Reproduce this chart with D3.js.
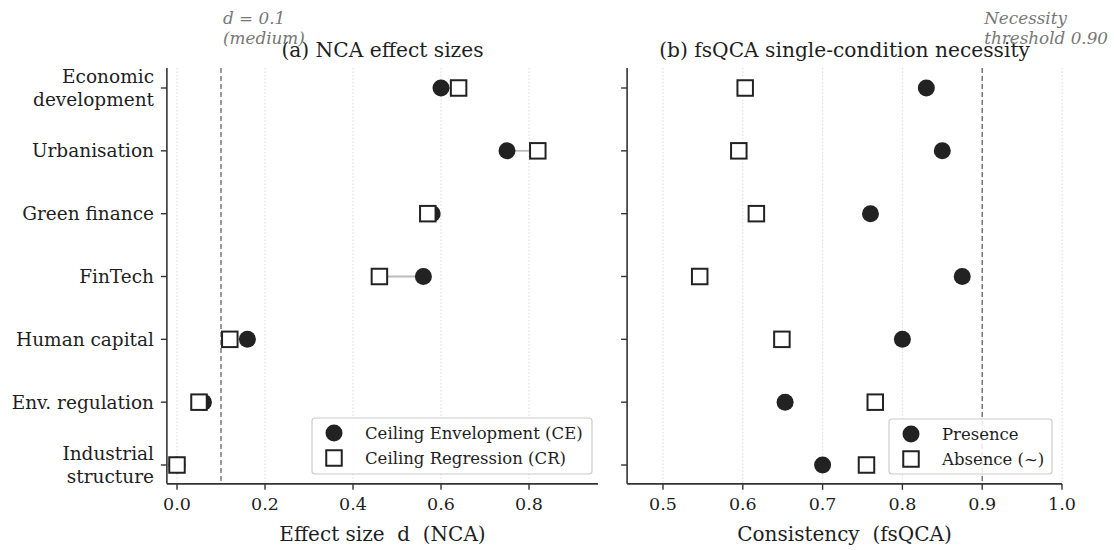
<!DOCTYPE html>
<meta charset="utf-8">
<script src="https://d3js.org/d3.v7.min.js"></script>
<style>
  body { margin: 0; background: #fff; }
  text { font-family: "DejaVu Serif", serif; fill: #1e1e1e; }
</style>
<div id="chart"></div>
<script>

// conditions, top to bottom
var conditions = ["Economic\ndevelopment", "Urbanisation", "Green finance", "FinTech",
                  "Human capital", "Env. regulation", "Industrial\nstructure"];

// (a) NCA effect sizes
var ceValues = [0.60, 0.75, 0.58, 0.56, 0.16, 0.06, 0.00];
var crValues = [0.64, 0.82, 0.57, 0.46, 0.12, 0.05, 0.00];

// (b) fsQCA necessity consistency
var presenceValues = [0.83, 0.85, 0.76, 0.875, 0.80, 0.653, 0.70];
var absenceValues  = [0.603, 0.595, 0.617, 0.546, 0.649, 0.766, 0.755];

var ncaTicks = [0.0, 0.2, 0.4, 0.6, 0.8];
var qcaTicks = [0.5, 0.6, 0.7, 0.8, 0.9, 1.0];
var ncaThreshold = 0.1;
var qcaThreshold = 0.9;

var svg = d3.select("#chart").append("svg")
  .attr("width", 1114)
  .attr("height", 550);

var y = d3.scaleLinear().domain([0, 6]).range([88, 465]);
var yTop = y(-0.32), yBottom = y(6.3);

var xA = d3.scaleLinear().domain([0, 0.8]).range([177, 529]);
var xB = d3.scaleLinear().domain([0.5, 1.0]).range([663, 1062]);

function panel(x, xmin, xmax, ticks, fmt, title, xlabel) {
  var g = svg.append("g");
  var left = x(xmin), right = x(xmax);

  // dotted grid
  g.selectAll(".grid").data(ticks).enter().append("line")
    .attr("x1", d => x(d)).attr("x2", d => x(d))
    .attr("y1", yTop).attr("y2", yBottom)
    .style("stroke", "#d0d0d0").style("stroke-width", 0.8)
    .style("stroke-dasharray", "1.5,2");

  // spines
  g.append("line").attr("x1", left).attr("x2", left).attr("y1", yTop).attr("y2", yBottom)
    .style("stroke", "#333").style("stroke-width", 1.6);
  g.append("line").attr("x1", left).attr("x2", right).attr("y1", yBottom).attr("y2", yBottom)
    .style("stroke", "#333").style("stroke-width", 1.6);

  // x ticks
  g.selectAll(".xt").data(ticks).enter().append("line")
    .attr("x1", d => x(d)).attr("x2", d => x(d))
    .attr("y1", yBottom).attr("y2", yBottom + 6)
    .style("stroke", "#333").style("stroke-width", 1.4);
  g.selectAll(".xl").data(ticks).enter().append("text")
    .attr("x", d => x(d)).attr("y", yBottom + 26)
    .attr("text-anchor", "middle").style("font-size", "17.5px")
    .text(d => fmt(d));

  // y ticks
  g.selectAll(".yt").data(conditions).enter().append("line")
    .attr("x1", left - 6).attr("x2", left)
    .attr("y1", (d, i) => y(i)).attr("y2", (d, i) => y(i))
    .style("stroke", "#333").style("stroke-width", 1.4);

  g.append("text").attr("x", (left + right) / 2).attr("y", 57)
    .attr("text-anchor", "middle").style("font-size", "20.2px").text(title);
  g.append("text").attr("x", (left + right) / 2).attr("y", 541)
    .attr("text-anchor", "middle").style("font-size", "20px")
    .attr("xml:space", "preserve").text(xlabel);
  return g;
}

var gA = panel(xA, -0.023, 0.957, ncaTicks, d3.format(".1f"), "(a) NCA effect sizes", "Effect size  d  (NCA)");
var gB = panel(xB, 0.455, 1.0, qcaTicks, d3.format(".1f"), "(b) fsQCA single-condition necessity", "Consistency  (fsQCA)");

// y labels (left panel only)
conditions.forEach(function(c, i) {
  var lines = c.split("\n");
  var t = svg.append("text").attr("text-anchor", "end").style("font-size", "18.5px");
  lines.forEach(function(l, k) {
    t.append("tspan").attr("x", 154)
      .attr("y", y(i) + 6.5 + (k - (lines.length - 1) / 2) * 23)
      .text(l);
  });
});

// threshold lines + notes
function threshold(g, x, v, lines) {
  g.append("line").attr("x1", x(v)).attr("x2", x(v)).attr("y1", yTop).attr("y2", yBottom)
    .style("stroke", "#666").style("stroke-width", 1.3).style("stroke-dasharray", "5,3");
  var t = g.append("text").style("font-size", "16.8px").style("font-style", "italic")
    .style("fill", "#777");
  lines.forEach(function(l, k) {
    t.append("tspan").attr("x", x(v) + 2).attr("y", 24 + k * 20).text(l);
  });
}
threshold(gA, xA, ncaThreshold, ["d = 0.1", "(medium)"]);
threshold(gB, xB, qcaThreshold, ["Necessity", "threshold 0.90"]);

// connectors in panel (a)
gA.selectAll(".conn").data(conditions).enter().append("line")
  .attr("x1", (d, i) => xA(ceValues[i])).attr("x2", (d, i) => xA(crValues[i]))
  .attr("y1", (d, i) => y(i)).attr("y2", (d, i) => y(i))
  .style("stroke", "#bbb").style("stroke-width", 1.8);

var R = 8.5, S = 15.5;
function dots(g, x, vals) {
  g.selectAll(null).data(vals).enter().append("circle")
    .attr("cx", d => x(d)).attr("cy", (d, i) => y(i)).attr("r", R)
    .style("fill", "#222");
}
function squares(g, x, vals) {
  g.selectAll(null).data(vals).enter().append("rect")
    .attr("x", d => x(d) - S / 2).attr("y", (d, i) => y(i) - S / 2)
    .attr("width", S).attr("height", S)
    .style("fill", "#fff").style("stroke", "#222").style("stroke-width", 2);
}
dots(gA, xA, ceValues);
squares(gA, xA, crValues);
dots(gB, xB, presenceValues);
squares(gB, xB, absenceValues);

// legends
function legend(x0, y0, w, h, labels) {
  var g = svg.append("g");
  g.append("rect").attr("x", x0).attr("y", y0).attr("width", w).attr("height", h)
    .attr("rx", 3).style("fill", "#fff").style("fill-opacity", 0.85)
    .style("stroke", "#ccc").style("stroke-width", 1.2);
  g.append("circle").attr("cx", x0 + 22).attr("cy", y0 + 15).attr("r", R).style("fill", "#222");
  g.append("rect").attr("x", x0 + 22 - S / 2).attr("y", y0 + 40 - S / 2)
    .attr("width", S).attr("height", S)
    .style("fill", "#fff").style("stroke", "#222").style("stroke-width", 2);
  labels.forEach(function(l, k) {
    g.append("text").attr("x", x0 + 53).attr("y", y0 + 21 + k * 25)
      .style("font-size", "16.5px").text(l);
  });
}
legend(312, 418, 280, 56, ["Ceiling Envelopment (CE)", "Ceiling Regression (CR)"]);
legend(889, 419, 163, 55, ["Presence", "Absence (~)"]);

</script>
